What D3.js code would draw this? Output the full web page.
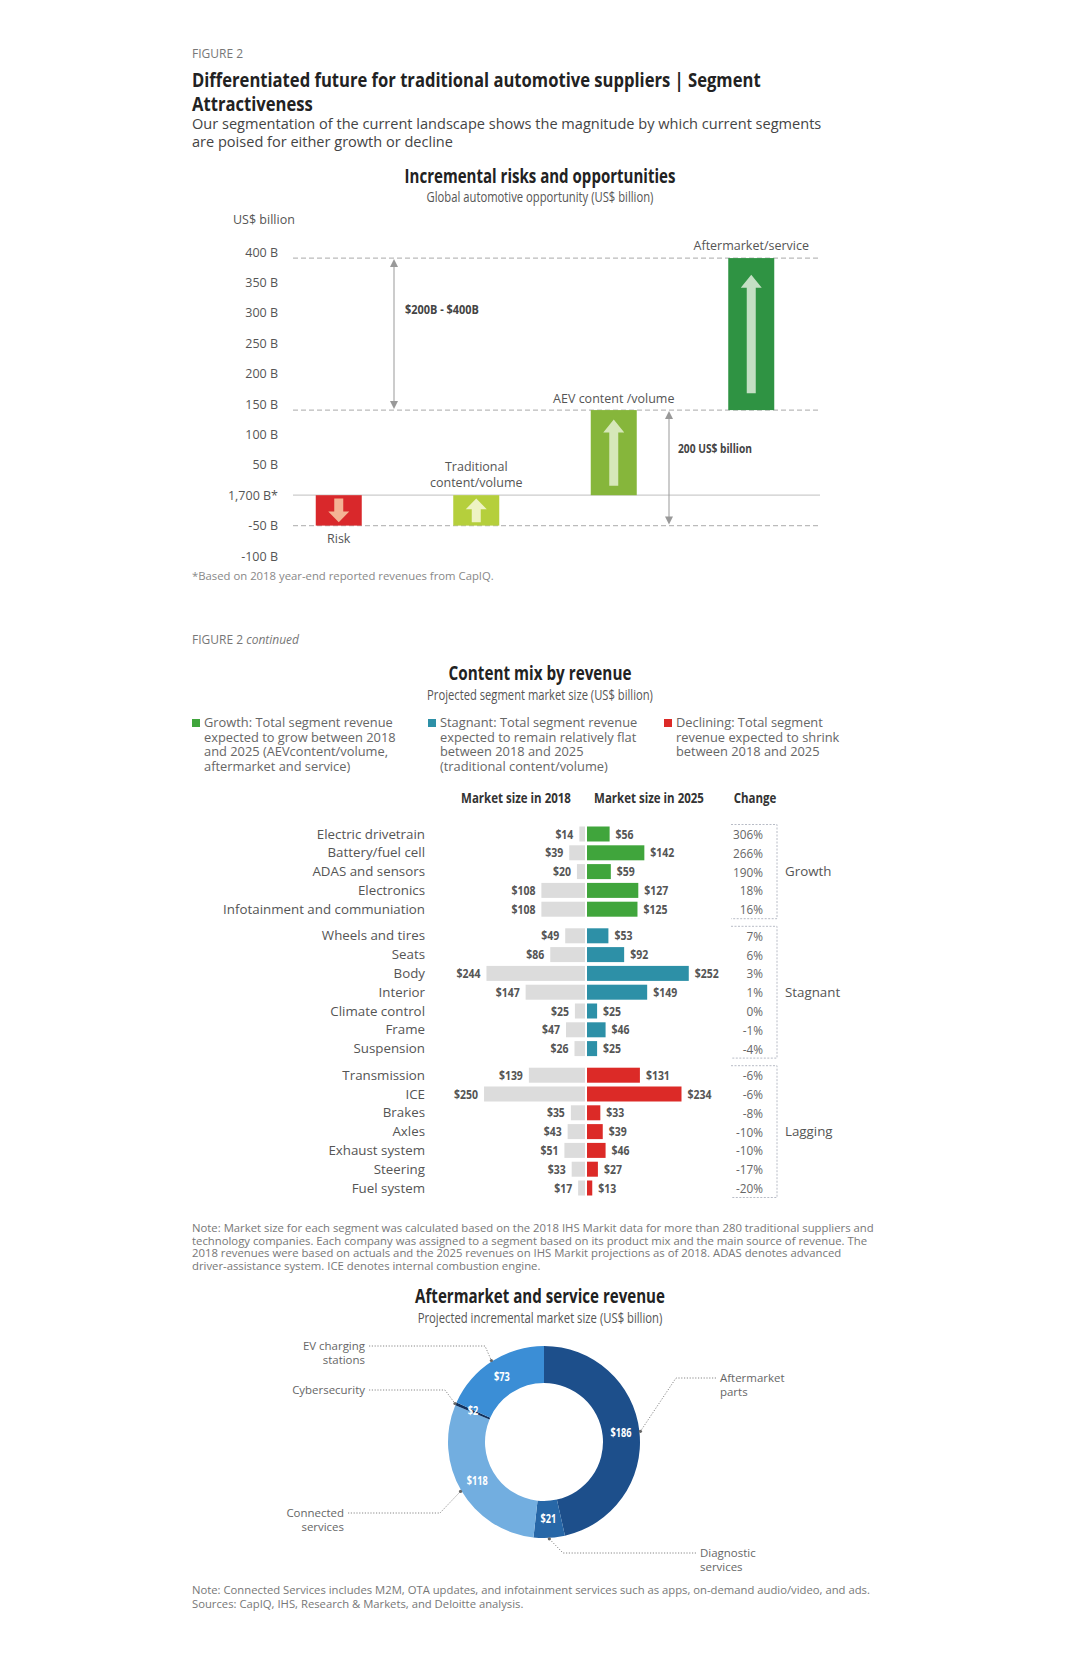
<!DOCTYPE html>
<html><head><meta charset="utf-8">
<script src="https://cdn.jsdelivr.net/npm/d3@7"></script>
<style>
html,body{margin:0;padding:0;background:#fff;}
svg{display:block;}
text{font-family:"Open Sans","Noto Sans",sans-serif;}
</style></head>
<body>
<svg id="chart" width="1080" height="1654"></svg>
<script>
// ---------- DATA: Incremental risks and opportunities ----------
const topCats = ["Risk", "Traditional content/volume", "AEV content /volume", "Aftermarket/service"];
const topStart = [0, -50, 0, 140];
const topEnd = [-50, 0, 140, 390];
const topTicks = [400, 350, 300, 250, 200, 150, 100, 50, 0, -50, -100];
const topTickLabels = ["400 B", "350 B", "300 B", "250 B", "200 B", "150 B", "100 B", "50 B", "1,700 B*", "-50 B", "-100 B"];
const topLevels = [390, 140, -50];

// ---------- DATA: Content mix by revenue ----------
const segments = ["Electric drivetrain", "Battery/fuel cell", "ADAS and sensors", "Electronics", "Infotainment and communiation",
  "Wheels and tires", "Seats", "Body", "Interior", "Climate control", "Frame", "Suspension",
  "Transmission", "ICE", "Brakes", "Axles", "Exhaust system", "Steering", "Fuel system"];
const segGroup = ["Growth", "Growth", "Growth", "Growth", "Growth",
  "Stagnant", "Stagnant", "Stagnant", "Stagnant", "Stagnant", "Stagnant", "Stagnant",
  "Lagging", "Lagging", "Lagging", "Lagging", "Lagging", "Lagging", "Lagging"];
const size2018 = [14, 39, 20, 108, 108, 49, 86, 244, 147, 25, 47, 26, 139, 250, 35, 43, 51, 33, 17];
const size2025 = [56, 142, 59, 127, 125, 53, 92, 252, 149, 25, 46, 25, 131, 234, 33, 39, 46, 27, 13];
const changeLabels = ["306%", "266%", "190%", "18%", "16%", "7%", "6%", "3%", "1%", "0%", "-1%", "-4%",
  "-6%", "-6%", "-8%", "-10%", "-10%", "-17%", "-20%"];
const groupNames = ["Growth", "Stagnant", "Lagging"];

// ---------- DATA: Aftermarket and service revenue ----------
const donutCats = ["Aftermarket parts", "Diagnostic services", "Connected services", "Cybersecurity", "EV charging stations"];
const donutVals = [186, 21, 118, 2, 73];
const donutValueLabels = ["$186", "$21", "$118", "$2", "$73"];

// ---------- drawing helpers ----------
const svg = d3.select("#chart");
svg.append("rect").attr("width", 1080).attr("height", 1654).attr("fill", "#fff");
const measurer = svg.append("text").attr("x", -1000).attr("y", -1000);
function measure(s, size, weight) {
  measurer.attr("font-size", size).attr("font-weight", weight || "normal").text(s);
  return measurer.node().getComputedTextLength();
}
function fitK(s, size, weight, target) { return target / measure(s, size, weight); }

function txt(x, y, s, size, fill, anchor, weight) {
  return svg.append("text").attr("x", x).attr("y", y)
    .attr("font-size", size).attr("fill", fill || "#333")
    .attr("text-anchor", anchor || "start").attr("font-weight", weight || "normal").text(s);
}
// condensed text block (one or more lines), horizontally squeezed by factor k
function cdLines(x, y, lines, size, fill, anchor, weight, k, lh) {
  const t = svg.append("text").attr("transform", `translate(${x},${y}) scale(${k},1)`)
    .attr("font-size", size).attr("fill", fill || "#333")
    .attr("text-anchor", anchor || "start").attr("font-weight", weight || "normal");
  lines.forEach((s, j) => t.append("tspan").attr("x", 0).attr("y", j * (lh || 0)).text(s));
  return t;
}
function cd(x, y, s, size, fill, anchor, weight, k) {
  return cdLines(x, y, [s], size, fill, anchor, weight, k, 0);
}
function cdFit(x, y, s, size, fill, anchor, weight, target) {
  return cd(x, y, s, size, fill, anchor, weight, fitK(s, size, weight, target));
}

// Header
txt(192, 58, "FIGURE 2", 12, "#777");
const titleLines = ["Differentiated future for traditional automotive suppliers | Segment", "Attractiveness"];
const kT = fitK(titleLines[0], 20, "bold", 569);
cdLines(192, 87, titleLines, 20, "#222", "start", "bold", kT, 24);
const subLines = ["Our segmentation of the current landscape shows the magnitude by which current segments",
  "are poised for either growth or decline"];
const kS = fitK(subLines[0], 14, "normal", 630);
cdLines(192, 129, subLines, 14, "#444", "start", "normal", kS, 18);

// ---------- Top chart ----------
cdFit(540, 183, "Incremental risks and opportunities", 19.5, "#222", "middle", "bold", 271);
cdFit(540, 202, "Global automotive opportunity (US$ billion)", 14.5, "#555", "middle", "normal", 227);
txt(233, 224, "US$ billion", 12.5, "#555");

const yTop = d3.scaleLinear().domain([-100, 400]).range([556, 252]);
const xTop = d3.scalePoint().domain(topCats).range([270, 820]).padding(0.5);
const barW = 46;

const yAxis = d3.axisLeft(yTop).tickValues(topTicks).tickSize(0).tickPadding(0)
  .tickFormat((d, i) => topTickLabels[i]);
const ga = svg.append("g").attr("transform", "translate(278,0)").call(yAxis);
ga.select(".domain").remove();
ga.selectAll("text").attr("font-size", 12.5).attr("fill", "#555").attr("font-family", null);

svg.append("line").attr("x1", 293).attr("x2", 820).attr("y1", yTop(0)).attr("y2", yTop(0))
  .attr("stroke", "#ccc").attr("stroke-width", 1.2);
svg.selectAll(".lvl").data(topLevels).enter().append("line")
  .attr("x1", 293).attr("x2", 820).attr("y1", d => yTop(d)).attr("y2", d => yTop(d))
  .attr("stroke", "#bbb").attr("stroke-width", 1.2).attr("stroke-dasharray", "5,3");

const barColors = ["#d9282b", "#b5cf3c", "#86b63b", "#2f9343"];
const arrowColors = ["#f4b395", "#eef3c4", "#d6e8b9", "#c4dfc4"];
topCats.forEach((c, i) => {
  const y0 = yTop(Math.max(topStart[i], topEnd[i]));
  const y1 = yTop(Math.min(topStart[i], topEnd[i]));
  const cx = xTop(c);
  svg.append("rect").attr("x", cx - barW / 2).attr("y", y0).attr("width", barW).attr("height", y1 - y0)
    .attr("fill", barColors[i]);
  const h = y1 - y0, m = Math.max(3, h * 0.11);
  const up = topEnd[i] > topStart[i];
  const tip = up ? y0 + m : y1 - m, tail = up ? y1 - m : y0 + m;
  const hh = Math.min(13, Math.abs(tail - tip) * 0.45), sw = 4.5, hw = 10.5;
  const dir = up ? 1 : -1;
  const p = d3.path();
  p.moveTo(cx, tip);
  p.lineTo(cx + hw, tip + dir * hh);
  p.lineTo(cx + sw, tip + dir * hh);
  p.lineTo(cx + sw, tail);
  p.lineTo(cx - sw, tail);
  p.lineTo(cx - sw, tip + dir * hh);
  p.lineTo(cx - hw, tip + dir * hh);
  p.closePath();
  svg.append("path").attr("d", p.toString()).attr("fill", arrowColors[i]);
});
txt(xTop(topCats[0]), 543, "Risk", 12.5, "#555", "middle");
cdLines(xTop(topCats[1]), 471, ["Traditional", "content/volume"], 12.5, "#555", "middle", "normal", 1, 16);
txt(xTop(topCats[2]), 403, "AEV content /volume", 12.5, "#555", "middle");
txt(xTop(topCats[3]), 250, "Aftermarket/service", 12.5, "#555", "middle");

function dblArrow(x, ya, yb) {
  svg.append("line").attr("x1", x).attr("x2", x).attr("y1", ya + 3).attr("y2", yb - 3)
    .attr("stroke", "#999").attr("stroke-width", 1);
  svg.append("path").attr("d", `M${x},${ya}L${x - 4},${ya + 8}L${x + 4},${ya + 8}Z`).attr("fill", "#999");
  svg.append("path").attr("d", `M${x},${yb}L${x - 4},${yb - 8}L${x + 4},${yb - 8}Z`).attr("fill", "#999");
}
dblArrow(394, yTop(topLevels[0]) + 1, yTop(topLevels[1]) - 1);
dblArrow(669, yTop(topLevels[1]) + 1, yTop(topLevels[2]) - 1);
cdFit(405, 314, "$200B - $400B", 12.5, "#444", "start", "bold", 74);
cdFit(678, 453, "200 US$ billion", 12.5, "#444", "start", "bold", 74);
cdFit(192, 580, "*Based on 2018 year-end reported revenues from CapIQ.", 11, "#888", "start", "normal", 302);

// ---------- Content mix ----------
const fig2 = txt(192, 644, "FIGURE 2 ", 12, "#777");
fig2.append("tspan").attr("font-style", "italic").text("continued");
cdFit(540, 680, "Content mix by revenue", 19.5, "#222", "middle", "bold", 183);
cdFit(540, 700, "Projected segment market size (US$ billion)", 14.5, "#555", "middle", "normal", 226);

const grpColors = {Growth: "#40a53c", Stagnant: "#2d90a7", Lagging: "#dc2a27"};
const legendCols = [
  {x: 192, c: grpColors.Growth, lines: ["Growth: Total segment revenue", "expected to grow between 2018", "and 2025 (AEVcontent/volume,", "aftermarket and service)"]},
  {x: 428, c: grpColors.Stagnant, lines: ["Stagnant: Total segment revenue", "expected to remain relatively flat", "between 2018 and 2025", "(traditional content/volume)"]},
  {x: 664, c: grpColors.Lagging, lines: ["Declining: Total segment", "revenue expected to shrink", "between 2018 and 2025"]}
];
const kL = fitK("Growth: Total segment revenue", 12, "normal", 189);
legendCols.forEach(l => {
  svg.append("rect").attr("x", l.x).attr("y", 719).attr("width", 8).attr("height", 8).attr("fill", l.c);
  cdLines(l.x + 12, 727, l.lines, 12, "#666", "start", "normal", kL, 14.7);
});

const kH = fitK("Market size in 2018", 14, "bold", 110);
cd(516, 803, "Market size in 2018", 14, "#333", "middle", "bold", kH);
cd(649, 803, "Market size in 2025", 14, "#333", "middle", "bold", kH);
cd(755, 803, "Change", 14, "#333", "middle", "bold", kH);

const slot = segments.map((s, i) => i + groupNames.indexOf(segGroup[i]) * 0.415);
const yMix = d3.scaleLinear().domain([0, 18 + 2 * 0.415]).range([834, 1188]);
const xMix = d3.scaleLinear().domain([0, 260]).range([0, 105]);
const cx = 586, bh = 15;
const kCat = fitK("Infotainment and communiation", 13.5, "normal", 202);
const kV = fitK("$108", 12.5, "bold", 24);
const kC = fitK("306%", 13.5, "normal", 30);

segments.forEach((s, i) => {
  const y = yMix(slot[i]);
  cd(425, y + 4.5, s, 13.5, "#555", "end", "normal", kCat);
  const w18 = xMix(size2018[i]), w25 = xMix(size2025[i]);
  svg.append("rect").attr("x", cx - 1 - w18).attr("y", y - bh / 2).attr("width", w18).attr("height", bh).attr("fill", "#dcdcdc");
  svg.append("rect").attr("x", cx + 1).attr("y", y - bh / 2).attr("width", w25).attr("height", bh).attr("fill", grpColors[segGroup[i]]);
  cd(cx - 1 - w18 - 6, y + 4.5, "$" + size2018[i], 12.5, "#555", "end", "bold", kV);
  cd(cx + 1 + w25 + 6, y + 4.5, "$" + size2025[i], 12.5, "#555", "start", "bold", kV);
  cd(763, y + 5, changeLabels[i], 13.5, "#666", "end", "normal", kC);
});
groupNames.forEach(g => {
  const idx = segments.map((s, i) => i).filter(i => segGroup[i] === g);
  const top = yMix(slot[idx[0]]) - 9.5, bot = yMix(slot[idx[idx.length - 1]]) + 9.5;
  svg.append("path").attr("d", `M731,${top}H777V${bot}H731`).attr("fill", "none")
    .attr("stroke", "#b8bcc6").attr("stroke-width", 1).attr("stroke-dasharray", "2,1.5");
  cd(785, (top + bot) / 2 + 4.5, g, 13.5, "#555", "start", "normal", kCat);
});

const note1 = ["Note: Market size for each segment was calculated based on the 2018 IHS Markit data for more than 280 traditional suppliers and",
  "technology companies. Each company was assigned to a segment based on its product mix and the main source of revenue. The",
  "2018 revenues were based on actuals and the 2025 revenues on IHS Markit  projections as of 2018. ADAS denotes advanced",
  "driver-assistance system. ICE denotes internal combustion engine."];
const kN = fitK(note1[0], 10.5, "normal", 683);
cdLines(192, 1232, note1, 10.5, "#777", "start", "normal", kN, 12.7);

// ---------- Donut ----------
cdFit(540, 1303, "Aftermarket and service revenue", 19.5, "#222", "middle", "bold", 250);
cdFit(540, 1323, "Projected incremental market size (US$ billion)", 14.5, "#555", "middle", "normal", 245);

const dcx = 544, dcy = 1442, rOut = 96, rIn = 59;
const donutColors = ["#1d4f8b", "#2767a7", "#72aee0", "#12315c", "#3b8ed6"];
const pie = d3.pie().sort(null).value(d => d)(donutVals);
const arc = d3.arc().innerRadius(rIn).outerRadius(rOut);
const gd = svg.append("g").attr("transform", `translate(${dcx},${dcy})`);
gd.selectAll("path").data(pie).enter().append("path").attr("d", arc).attr("fill", (d, i) => donutColors[i]);
const kD = fitK("$186", 11.5, "bold", 21);
pie.forEach((d, i) => {
  const c = arc.centroid(d);
  cd(dcx + c[0], dcy + c[1] + 4, donutValueLabels[i], 11.5, "#fff", "middle", "bold", kD);
});

const leaderLayout = [
  {lines: ["Aftermarket", "parts"], anchor: "start", x: 720, y: 1378, elbow: 676},
  {lines: ["Diagnostic", "services"], anchor: "start", x: 700, y: 1553, elbow: 563},
  {lines: ["Connected", "services"], anchor: "end", x: 344, y: 1513, elbow: 440},
  {lines: ["Cybersecurity"], anchor: "end", x: 365, y: 1390, elbow: 445},
  {lines: ["EV charging", "stations"], anchor: "end", x: 365, y: 1346, elbow: 485}
];
const kLL = fitK("Cybersecurity", 11, "normal", 73);
pie.forEach((d, i) => {
  const L = leaderLayout[i];
  const a = (d.startAngle + d.endAngle) / 2;
  const px = dcx + (rOut + 1) * Math.sin(a), py = dcy - (rOut + 1) * Math.cos(a);
  const sx = L.anchor === "start" ? L.x - 4 : L.x + 4;
  svg.append("path").attr("d", `M${sx},${L.y}H${L.elbow}L${px},${py}`).attr("fill", "none")
    .attr("stroke", "#888").attr("stroke-width", 1).attr("stroke-dasharray", "1.2,1.6");
  svg.append("circle").attr("cx", px).attr("cy", py).attr("r", 1.6).attr("fill", "#666");
  cdLines(L.x, L.y + 4, L.lines, 11, "#666", L.anchor, "normal", kLL, 13.8);
});

const footLines = ["Note: Connected Services includes M2M, OTA updates, and infotainment services such as apps, on-demand audio/video, and ads.",
  "Sources: CapIQ, IHS, Research & Markets, and Deloitte analysis."];
const kF = fitK(footLines[0], 11.5, "normal", 679);
cdLines(192, 1594, footLines, 11.5, "#777", "start", "normal", kF, 14);
measurer.remove();
</script>
</body></html>
